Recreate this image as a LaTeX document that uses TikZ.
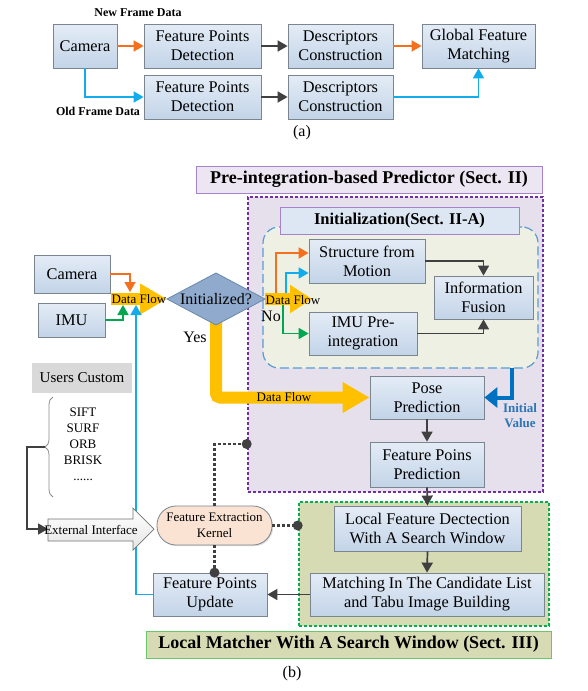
\documentclass[tikz,border=0pt]{standalone}
\usepackage{fontspec}
\setmainfont{Liberation Serif}
\usetikzlibrary{arrows.meta,decorations.pathreplacing,shadows,calc}
\definecolor{boxtop}{HTML}{E4ECF6}
\definecolor{boxbot}{HTML}{C3D4E8}
\definecolor{boxline}{HTML}{7A8590}
\definecolor{corange}{HTML}{F4701F}
\definecolor{cblue}{HTML}{12ABEB}
\definecolor{cgreen}{HTML}{00A650}
\definecolor{cdark}{HTML}{404040}
\definecolor{cyellow}{HTML}{FFC000}
\definecolor{purpfill}{HTML}{E5E0EC}
\definecolor{purpline}{HTML}{7030A0}
\definecolor{purptitle}{HTML}{ECE6F2}
\definecolor{purpborder}{HTML}{A682CB}
\definecolor{initfill}{HTML}{DCE7F3}
\definecolor{dashfill}{HTML}{EEF0E4}
\definecolor{dashline}{HTML}{5B9BD5}
\definecolor{greenfill}{HTML}{D6DBB4}
\definecolor{greenline}{HTML}{00B050}
\definecolor{greenborder}{HTML}{6CC76C}
\definecolor{fekfill}{HTML}{FBE3D4}
\definecolor{diafill}{HTML}{8FAACC}
\definecolor{dialine}{HTML}{6A88AA}
\definecolor{ivblue}{HTML}{0070C0}
\definecolor{ivtext}{HTML}{2E75B6}
\begin{document}
\begin{tikzpicture}[x=1pt,y=-1pt,
  box/.style={draw=boxline, line width=0.8pt, top color=boxtop, bottom color=boxbot,
    inner sep=0pt, align=center, font=\fontsize{16.3}{19}\selectfont,
    drop shadow={opacity=0.25, shadow xshift=1.2pt, shadow yshift=-1.2pt}},
  arr/.style={line width=1.7pt, -{Triangle[length=10pt,width=11pt]}},
  darr/.style={arr, cdark},
  oarr/.style={arr, corange},
  barr/.style={arr, cblue},
  garr/.style={arr, cgreen},
  dotline/.style={cdark, line width=2.8pt, dash pattern=on 2.8pt off 2.2pt},
  small/.style={font=\fontsize{13}{16}\selectfont},
  lbl/.style={font=\bfseries\fontsize{12}{14}\selectfont},
  titlefont/.style={font=\bfseries\fontsize{18}{21}\selectfont},
  plain/.style={font=\fontsize{16}{19}\selectfont}
]
\useasboundingbox[fill=white] (0,0) rectangle (587,691);

% ---------------- (a) ----------------
\node[box, minimum width=64pt, minimum height=44pt] (camA) at (85,46) {Camera};
\node[box, minimum width=117pt, minimum height=44pt] (fpd1) at (202.5,46) {Feature Points\\Detection};
\node[box, minimum width=105pt, minimum height=44pt] (dc1) at (340.5,46) {Descriptors\\Construction};
\node[box, minimum width=113pt, minimum height=44pt] (gfm) at (478.5,46) {Global Feature\\Matching};
\node[box, minimum width=117pt, minimum height=44pt] (fpd2) at (202.5,97) {Feature Points\\Detection};
\node[box, minimum width=105pt, minimum height=44pt] (dc2) at (340.5,97) {Descriptors\\Construction};
\draw[oarr] (camA.east) -- (fpd1.west);
\draw[darr] (fpd1.east) -- (dc1.west);
\draw[oarr] (dc1.east) -- (gfm.west);
\draw[barr] (camA.south) |- (fpd2.west);
\draw[darr] (fpd2.east) -- (dc2.west);
\draw[barr] (dc2.east) -| (gfm.south);
\node[lbl] (nfd) at (138,13) {New Frame Data};
\node[lbl] (ofd) at (98,111) {Old Frame Data};
\node[plain] (capa) at (302,133) {(a)};

% ---------------- (b) regions ----------------
\node[draw=purpline, fill=purpfill, line width=2.6pt, dash pattern=on 2.6pt off 2.4pt,
  minimum width=295pt, minimum height=295pt, inner sep=0pt] (predReg) at (395.5,344.5) {};
\node[draw=dashline, fill=dashfill, line width=1.2pt, dash pattern=on 9pt off 4pt,
  rounded corners=16pt, minimum width=275pt, minimum height=141pt, inner sep=0pt] (initReg) at (400.5,297.5) {};
\node[draw=greenline, fill=greenfill, line width=2.6pt, dash pattern=on 2.6pt off 2.4pt,
  minimum width=250pt, minimum height=124pt, inner sep=0pt] (lmReg) at (424,564) {};
\node[draw=purpborder, fill=purptitle, line width=0.9pt, titlefont,
  minimum width=346pt, minimum height=27pt, inner sep=0pt] (predTitle) at (369,179.5) {Pre-integration-based Predictor (Sect. II)};
\node[draw=purpborder, fill=initfill, line width=0.9pt, font=\bfseries\fontsize{16.5}{19}\selectfont,
  minimum width=239pt, minimum height=27pt, inner sep=0pt] (initTitle) at (399.5,220.5) {Initialization(Sect. II-A)};
\node[draw=greenborder, fill=greenfill, line width=0.9pt, titlefont,
  minimum width=405pt, minimum height=27pt, inner sep=0pt] (lmTitle) at (348.5,644.5) {Local Matcher With A Search Window (Sect. III)};

% ---------------- yellow data flows ----------------
\coordinate (dfLs) at (111,299);
\coordinate (initL) at (167,299);
\coordinate (initR) at (265,299);
\coordinate (initT) at (216,273);
\coordinate (initB) at (216,322);
\coordinate (dfRt) at (312,299);
\node[box, minimum width=114pt, minimum height=43pt] (pose) at (427,397.5) {Pose\\Prediction};
\draw[cyellow, line width=12pt, rounded corners=4pt, -{Triangle[length=27pt,width=29pt]}] (initB) |- (pose.west);
\draw[cyellow, line width=12pt, -{Triangle[length=27pt,width=29pt]}] (dfLs) -- (initL);
\draw[cyellow, line width=12pt, -{Triangle[length=22pt,width=27pt]}] (initR) -- (dfRt);

% diamond
\draw[fill=diafill, draw=dialine, line width=0.8pt] (initL) -- (initT) -- (initR) -- (216,325) -- cycle;
\node[plain] (init) at (216,299) {Initialized?};

% ---------------- (b) boxes ----------------
\node[box, minimum width=76pt, minimum height=38pt] (camB) at (72,274) {Camera};
\node[box, minimum width=67pt, minimum height=34pt] (imu) at (71.5,320) {IMU};
\node[box, minimum width=116pt, minimum height=44pt] (sfm) at (367,261) {Structure from\\Motion};
\node[box, minimum width=99pt, minimum height=43pt] (infoF) at (483.5,297.5) {Information\\Fusion};
\node[box, minimum width=108pt, minimum height=43pt] (imuPre) at (363,333.5) {IMU Pre-\\integration};
\node[box, minimum width=114pt, minimum height=45pt] (fpp) at (427,464.5) {Feature Poins\\Prediction};
\node[box, minimum width=187pt, minimum height=45pt] (lfd) at (427.5,528.5) {Local Feature Dectection\\With A Search Window};
\node[box, minimum width=234pt, minimum height=43pt] (match) at (427,594.5) {Matching In The Candidate List\\and Tabu Image Building};
\node[box, minimum width=114pt, minimum height=43pt] (fpu) at (210,594.5) {Feature Points\\Update};
\node[draw=boxline, line width=0.8pt, fill=fekfill, rounded corners=19pt, small, align=center,
  minimum width=115pt, minimum height=39pt, inner sep=0pt,
  drop shadow={opacity=0.25, shadow xshift=1.2pt, shadow yshift=-1.2pt}] (fek) at (214.5,525.5) {Feature Extraction\\Kernel};
\node[fill=black!15, minimum width=100pt, minimum height=30pt, inner sep=0pt,
  font=\fontsize{15}{18}\selectfont] (uc) at (82,378) {Users Custom};

% ---------------- connectors ----------------
\coordinate (camIn) at (130,292);
\coordinate (imuIn) at (123,305);
\coordinate (fpuIn) at (136,305);
\draw[oarr] (camB.east) -| (camIn);
\draw[garr] (imu.east) -| (imuIn);
\draw[barr] (fpu.west) -| (fpuIn);

\coordinate (oStart) at (276,293);
\coordinate (bStart) at (286,293);
\coordinate (gStart) at (283,305);
\draw[oarr] (oStart) |- ([yshift=8pt]sfm.west);
\draw[barr] (bStart) |- ([yshift=-12pt]sfm.west);
\draw[garr] (gStart) |- (imuPre.west);

\draw[darr] (sfm.east) -| (infoF.north);
\draw[darr] (imuPre.east) -| (infoF.south);
\draw[darr] (pose.south) -- (fpp.north);
\draw[darr] (fpp.south) -- (lfd.north);
\draw[darr] (lfd.south) -- (match.north);
\draw[darr] (match.west) -- (fpu.east);

\coordinate (ivtop) at (512,368);
\draw[ivblue, line width=4pt, -{Triangle[length=13pt,width=20pt]}] (ivtop) |- (pose.east);
\node[font=\bfseries\fontsize{13}{15}\selectfont, text=ivtext, align=center] (iv) at (520,416) {Initial\\Value};

% brace and list
\coordinate (braceTop) at (53,397);
\coordinate (braceBot) at (53,497);
\draw[black!45, line width=0.8pt, decorate, decoration={brace, amplitude=8pt}] (braceBot) -- (braceTop);
\node[small, align=center] (list) at (83,444) {SIFT\\SURF\\ORB\\BRISK\\......};
\coordinate (braceTip) at (45,447);
\coordinate (extW) at (48,529);
\draw[darr] (braceTip) -- (27,447) |- (extW);

% external interface
\draw[draw=black!55, line width=0.7pt, top color=white, bottom color=black!10]
  (48,519) -- (133,519) -- (133,508) -- (154,529) -- (133,550) -- (133,541) -- (48,541) -- cycle;
\node[small] (ext) at (91,530) {External Interface};

% dotted connectors
\coordinate (dotP) at (predReg.west |- 0,444);
\coordinate (dotG) at (lmReg.west |- fek.east);
\coordinate (dotU) at (fek.south |- fpu.north);
\draw[dotline] (fek.north) |- (dotP);
\draw[dotline] (fek.east) -- (dotG);
\draw[dotline] (fek.south) -- (dotU);
\fill[cdark] (dotP) circle (5pt);
\fill[cdark] (dotG) circle (5pt);
\fill[cdark] (dotU) circle (5pt);

% labels
\node[small] (df1) at (139,299) {Data Flow};
\node[small] (df2) at (293,300) {Data Flow};
\node[small] (df3) at (284,397) {Data Flow};
\node[plain] (yes) at (195,337) {Yes};
\node[plain] (no) at (271,316) {No};
\node[plain] (capb) at (292,674) {(b)};
\end{tikzpicture}
\end{document}
